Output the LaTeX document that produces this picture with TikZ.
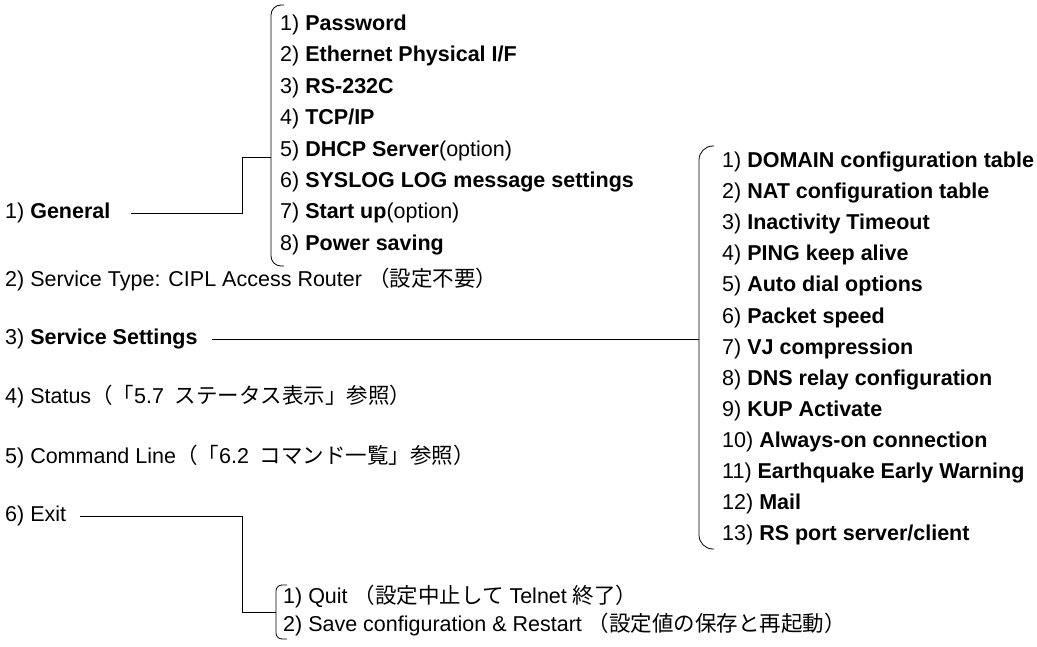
\documentclass[tikz,border=0pt]{standalone}
\usepackage{fontspec}
\setmainfont{Liberation Sans}
\newfontfamily\jp{Noto Sans CJK JP}
\begin{document}
\begin{tikzpicture}
    [x = 1pt, y = -1pt, every node/.style = {font=\fontsize{21.5}{25}\selectfont},
     item/.style = {anchor=west, inner sep=0pt},
     brace/.style = {line width=0.8pt, rounded corners=10pt},
     link/.style = {line width=0.8pt}]
    \useasboundingbox (0,0) rectangle (1037,647);
    % main menu
    \node[item] (gen) at (5,213) {1) \textbf{General}};
    \node[item] (stype) at (5,280) {2) Service Type: CIPL Access Router {\jp （設定不要）}};
    \node[item] (sset) at (5,339) {3) \textbf{Service Settings}};
    \node[item] (stat) at (5,397) {4) Status{\jp （「}5.7\enspace{\jp ステータス表示」参照）}};
    \node[item] (cmd) at (5,457) {5) Command Line{\jp （「}6.2\enspace{\jp コマンド一覧」参照）}};
    \node[item] (exit) at (5,516) {6) Exit};
    % general sub menu
    \foreach \t [count=\i] in {\textbf{Password}, \textbf{Ethernet Physical I/F},
        \textbf{RS-232C}, \textbf{TCP/IP}, {\textbf{DHCP Server}(option)},
        \textbf{SYSLOG LOG message settings}, {\textbf{Start up}(option)},
        \textbf{Power saving}}
      \node[item] (g\i) at (280, {25+31.4*(\i-1)}) {\i) \t};
    \draw[brace] (284,5) -| (271,266) -- (284,266);
    \coordinate (gk) at (242,157);
    \coordinate (gb) at (271,157);
    \draw[link] ([xshift=20]gen.east) -| (gk) -- (gb);
    % service settings sub menu
    \foreach \t [count=\i] in {DOMAIN configuration table, NAT configuration table,
        Inactivity Timeout, PING keep alive, Auto dial options, Packet speed,
        VJ compression, DNS relay configuration, KUP Activate, Always-on connection,
        Earthquake Early Warning, Mail, RS port server/client}
      \node[item] (s\i) at (722, {162+31.1*(\i-1)}) {\i) \textbf{\t}};
    \draw[brace, rounded corners=14pt] (714,146) -| (699,549) -- (714,549);
    \coordinate (sb) at (699,339);
    \draw[link] ([xshift=14]sset.east) -- (sb);
    % exit sub menu
    \node[item] (quit) at (283,597) {1) Quit {\jp （設定中止して} Telnet {\jp 終了）}};
    \node[item] (save) at (283,625) {2) Save configuration \& Restart {\jp （設定値の保存と再起動）}};
    \draw[brace, rounded corners=6pt] (287,585) -| (276,639) -- (287,639);
    \coordinate (ek) at (242,612);
    \coordinate (eb) at (276,612);
    \draw[link] ([xshift=14]exit.east) -| (ek) -- (eb);
  \end{tikzpicture}
\end{document}
